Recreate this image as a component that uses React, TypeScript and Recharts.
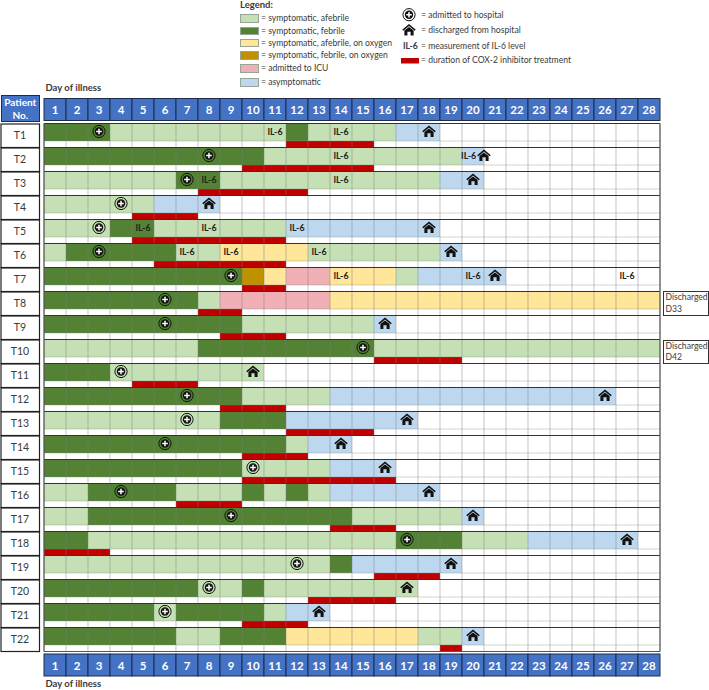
import React from 'react';
import { BarChart, Bar, XAxis, YAxis, Cell, ReferenceLine, ReferenceDot } from 'recharts';

const days = Array.from({ length: 28 }, (_, i) => i + 1);
const patients = ['T1', 'T2', 'T3', 'T4', 'T5', 'T6', 'T7', 'T8', 'T9', 'T10', 'T11', 'T12', 'T13', 'T14', 'T15', 'T16', 'T17', 'T18', 'T19', 'T20', 'T21', 'T22'];

// status code + number of days, per patient
const statusRuns: [string, number][][] = [
  [['F', 3], ['A', 8], ['F', 1], ['A', 4], ['S', 2]],
  [['F', 10], ['A', 9], ['S', 1]],
  [['A', 6], ['F', 2], ['A', 10], ['S', 2]],
  [['A', 5], ['S', 3]],
  [['A', 3], ['F', 2], ['A', 6], ['S', 7]],
  [['A', 1], ['F', 5], ['A', 2], ['O', 4], ['A', 6], ['S', 1]],
  [['F', 9], ['X', 1], ['O', 1], ['I', 2], ['O', 3], ['A', 1], ['S', 4]],
  [['F', 7], ['A', 1], ['I', 5], ['O', 15]],
  [['F', 9], ['A', 6], ['S', 1]],
  [['A', 7], ['F', 8], ['A', 13]],
  [['F', 3], ['A', 7]],
  [['F', 9], ['A', 4], ['S', 13]],
  [['A', 8], ['F', 3], ['S', 6]],
  [['F', 11], ['A', 1], ['S', 2]],
  [['F', 9], ['A', 4], ['S', 3]],
  [['A', 2], ['F', 4], ['A', 3], ['F', 1], ['A', 1], ['F', 1], ['A', 1], ['S', 5]],
  [['A', 2], ['F', 12], ['A', 5], ['S', 1]],
  [['F', 2], ['A', 14], ['F', 3], ['A', 3], ['S', 5]],
  [['A', 13], ['F', 1], ['S', 5]],
  [['F', 7], ['A', 2], ['F', 1], ['A', 7]],
  [['F', 5], ['A', 1], ['F', 4], ['A', 1], ['S', 2]],
  [['F', 6], ['A', 2], ['F', 3], ['O', 6], ['A', 2], ['S', 1]],
];
const coxStart = [11, 9, 7, 4, 4, 5, 9, 7, 8, 15, 4, 8, 11, 9, 9, 6, 13, 0, 15, 12, 9, 18];
const coxEnd = [15, 15, 12, 7, 11, 11, 11, 9, 11, 19, 7, 11, 15, 12, 16, 9, 16, 3, 18, 16, 12, 19];
const admitDay = [3, 8, 7, 4, 3, 3, 9, 6, 6, 15, 4, 7, 7, 6, 10, 4, 9, 17, 12, 8, 6, null];
const homeDay = [18, 20.5, 20, 8, 18, 19, 21, null, 16, null, 10, 26, 17, 14, 16, 18, 20, 27, 19, 17, 13, 20];
const il6Days = [[11, 14], [14, 19.8], [8, 14], [], [5, 8, 12], [7, 9, 13], [14, 20, 27], [], [], [], [], [], [], [], [], [], [], [], [], [], [], []];

const statusColors: Record<string, string> = {
  A: '#c5e0b4',
  F: '#548235',
  O: '#ffe699',
  X: '#bf9000',
  I: '#f0b0b6',
  S: '#bdd7ee',
};
const legendRows = [
  ['A', '= symptomatic, afebrile'],
  ['F', '= symptomatic, febrile'],
  ['O', '= symptomatic, afebrile, on oxygen'],
  ['X', '= symptomatic, febrile, on oxygen'],
  ['I', '= admitted to ICU'],
  ['S', '= asymptomatic'],
];
const legendRowY = [18, 30.5, 42.5, 55, 68, 82];
const dischargedNotes = [
  { top: 291, lines: ['Discharged', 'D33'] },
  { top: 339.5, lines: ['Discharged', 'D42'] },
];

const FONT = 'Lato, "Open Sans", sans-serif';
const TEXT = '#3a3a3a';
const BLUE = '#4472c4';
const RED = '#c00000';
const maxRuns = Math.max(...statusRuns.map((r) => r.length));

const tableData = patients.map((name, i) => {
  const row: any = { name, coxPad: coxStart[i], coxLen: coxEnd[i] - coxStart[i] };
  statusRuns[i].forEach((run, k) => {
    row[`run${k}`] = run[1];
  });
  return row;
});

const AdmitIcon = ({ cx, cy }: any) => (
  <g>
    <circle cx={cx} cy={cy} r={6.1} fill="none" stroke="#111" strokeWidth={1} />
    <circle cx={cx} cy={cy} r={4.2} fill="#111" />
    <path d={`M${cx - 2.8} ${cy}H${cx + 2.8}M${cx} ${cy - 2.8}V${cy + 2.8}`} stroke="#fff" strokeWidth={1.5} />
  </g>
);

const HomeIcon = ({ cx, cy }: any) => (
  <g fill="#111">
    <path d={`M${cx - 6.8} ${cy - 0.2}L${cx} ${cy - 6}L${cx + 6.8} ${cy - 0.2}L${cx + 5.6} ${cy + 0.8}L${cx} ${cy - 4}L${cx - 5.6} ${cy + 0.8}Z`} />
    <path d={`M${cx - 4.6} ${cy + 0.4}L${cx} ${cy - 3}L${cx + 4.6} ${cy + 0.4}V${cy + 5.5}H${cx + 1.6}V${cy + 1.8}H${cx - 1.6}V${cy + 5.5}H${cx - 4.6}Z`} />
  </g>
);

const Il6Label = ({ cx, cy }: any) => (
  <text x={cx} y={cy + 3} textAnchor="middle" fontFamily={FONT} fontSize={8.8} fontWeight={700} fill="#222">
    IL-6
  </text>
);

// marks sit in the coloured part of the row, above the band centre
const inRow = (Icon: any) => ({ cx, cy }: any) => <Icon cx={cx} cy={cy - 4} />;
const AdmitDot = inRow(AdmitIcon);
const HomeDot = inRow(HomeIcon);
const Il6Dot = inRow(Il6Label);

const DividerLine = ({ x1, x2, y1 }: any) => (
  <line x1={x1} x2={x2} y1={y1 + 5.5} y2={y1 + 5.5} stroke="#7f7f7f" strokeOpacity={0.35} strokeWidth={1} />
);

const DayTick = ({ x, payload, boxTop }: any) => (
  <g>
    <rect x={x - 11} y={boxTop} width={22} height={22} fill={BLUE} stroke="#1f2d4a" strokeWidth={1} />
    <text x={x} y={boxTop + 15.5} textAnchor="middle" fontFamily={FONT} fontSize={11.5} fontWeight={700} fill="#fff">
      {Math.ceil(payload.value)}
    </text>
  </g>
);

const PatientTick = ({ y, payload }: any) => (
  <g>
    <rect x={1} y={y - 11.5} width={38.5} height={23.5} fill="#fff" stroke="#222" strokeWidth={1.2} />
    <text x={20} y={y + 3.5} textAnchor="middle" fontFamily={FONT} fontSize={10.5} fill={TEXT}>
      {payload.value}
    </text>
  </g>
);

const abs = (left: number, top: number): React.CSSProperties => ({ position: 'absolute', left, top, whiteSpace: 'nowrap' });

const App = () => (
  <div style={{ position: 'absolute', left: 0, top: 0, width: 709, height: 690, fontFamily: FONT, color: TEXT, background: '#fff', overflow: 'hidden' }}>
    <BarChart
      width={709}
      height={690}
      data={tableData}
      layout="vertical"
      barGap={0}
      barCategoryGap={0}
      margin={{ top: 0, right: 49, bottom: 0, left: 0 }}
    >
      <XAxis type="number" orientation="top" height={123.5} domain={[0, 28]} ticks={days.map((d) => d - 0.5)} interval={0} axisLine={false} tickLine={false} tick={<DayTick boxTop={98.5} />} />
      <XAxis xAxisId="bottom" type="number" orientation="bottom" height={38.5} domain={[0, 28]} ticks={days.map((d) => d - 0.5)} interval={0} axisLine={false} tickLine={false} tick={<DayTick boxTop={654} />} />
      <YAxis type="category" dataKey="name" width={44} interval={0} axisLine={false} tickLine={false} tick={<PatientTick />} />

      {Array.from({ length: maxRuns }, (_, k) => (
        <Bar key={k} dataKey={`run${k}`} stackId="status" barSize={17.45} isAnimationActive={false}>
          {statusRuns.map((runs, i) => (
            <Cell key={i} fill={runs[k] ? statusColors[runs[k][0]] : 'none'} />
          ))}
        </Bar>
      ))}
      <Bar dataKey="coxPad" stackId="cox" barSize={6.5} fill="none" isAnimationActive={false} />
      <Bar dataKey="coxLen" stackId="cox" barSize={6.5} fill={RED} isAnimationActive={false} />
      {/* the bottom axis only draws its ticks when a series is bound to it */}
      <Bar dataKey="coxPad" xAxisId="bottom" stackId="cox" barSize={6.5} fill="none" isAnimationActive={false} />

      {days.slice(0, 27).map((d) => (
        <ReferenceLine key={d} x={d} stroke="#7f7f7f" strokeOpacity={0.35} strokeWidth={1.3} />
      ))}
      {patients.map((p) => (
        <ReferenceLine key={`mid${p}`} y={p} shape={<DividerLine />} />
      ))}
      {patients.map((p) => (
        <ReferenceLine key={p} y={p} position="start" stroke="#333" strokeWidth={1} />
      ))}
      <ReferenceLine y="T22" position="end" stroke="#555" strokeWidth={1.2} />
      <ReferenceLine x={0} stroke="#555" strokeWidth={1.3} />
      <ReferenceLine x={28} stroke="#555" strokeWidth={1.3} />

      {il6Days.flatMap((list, i) =>
        list.map((d) => (
          <ReferenceDot key={`il${i}-${d}`} x={d - 0.5} y={patients[i]} shape={<Il6Dot />} />
        )),
      )}
      {admitDay.map((d, i) =>
        d == null ? null : <ReferenceDot key={`ad${i}`} x={d - 0.5} y={patients[i]} shape={<AdmitDot />} />,
      )}
      {homeDay.map((d, i) =>
        d == null ? null : <ReferenceDot key={`ho${i}`} x={d - 0.5} y={patients[i]} shape={<HomeDot />} />,
      )}
    </BarChart>

    {/* legend */}
    <div style={{ ...abs(240, -1), fontSize: 9.5, fontWeight: 700, lineHeight: '12px' }}>Legend:</div>
    {legendRows.map(([code, label], i) => (
      <React.Fragment key={code}>
        <div style={{ ...abs(240, legendRowY[i] - 3.7), width: 16.5, height: 6.5, background: statusColors[code], border: '0.5px solid #9aa59a' }} />
        <div style={{ ...abs(261, legendRowY[i] - 6), fontSize: 8.6, lineHeight: '12px' }}>{label}</div>
      </React.Fragment>
    ))}
    <svg style={abs(398, 5)} width={24} height={62}>
      <AdmitIcon cx={11} cy={9.7} />
      <HomeIcon cx={11} cy={25} />
      <rect x={3} y={53} width={18} height={5.5} fill={RED} />
    </svg>
    <div style={{ ...abs(403, 40), fontSize: 8.6, fontWeight: 700, lineHeight: '12px' }}>IL-6</div>
    <div style={{ ...abs(421, 9), fontSize: 8.6, lineHeight: '12px' }}>= admitted to hospital</div>
    <div style={{ ...abs(421, 24), fontSize: 8.6, lineHeight: '12px' }}>= discharged from hospital</div>
    <div style={{ ...abs(421, 40), fontSize: 8.6, lineHeight: '12px' }}>= measurement of IL-6 level</div>
    <div style={{ ...abs(421, 54), fontSize: 8.6, lineHeight: '12px' }}>= duration of COX-2 inhibitor treatment</div>

    {/* header cells and notes */}
    <div style={{ ...abs(45.5, 82), fontSize: 9.5, fontWeight: 700, lineHeight: '12px' }}>Day of illness</div>
    <div style={{ ...abs(45.5, 678), fontSize: 9.5, fontWeight: 700, lineHeight: '12px' }}>Day of illness</div>
    <div style={{ ...abs(1, 95), width: 38.5, height: 27, boxSizing: 'border-box', background: BLUE, border: '1px solid #1f2d4a', color: '#fff', fontSize: 10, fontWeight: 700, lineHeight: '13px', textAlign: 'center' }}>
      Patient
      <br />
      No.
    </div>
    {dischargedNotes.map((note) => (
      <div key={note.top} style={{ ...abs(663, note.top), width: 46, height: 24.5, boxSizing: 'border-box', border: '1px solid #333', fontSize: 8.6, lineHeight: '11.5px', paddingLeft: 1.5, background: '#fff' }}>
        {note.lines[0]}
        <br />
        {note.lines[1]}
      </div>
    ))}
  </div>
);

export default App;
